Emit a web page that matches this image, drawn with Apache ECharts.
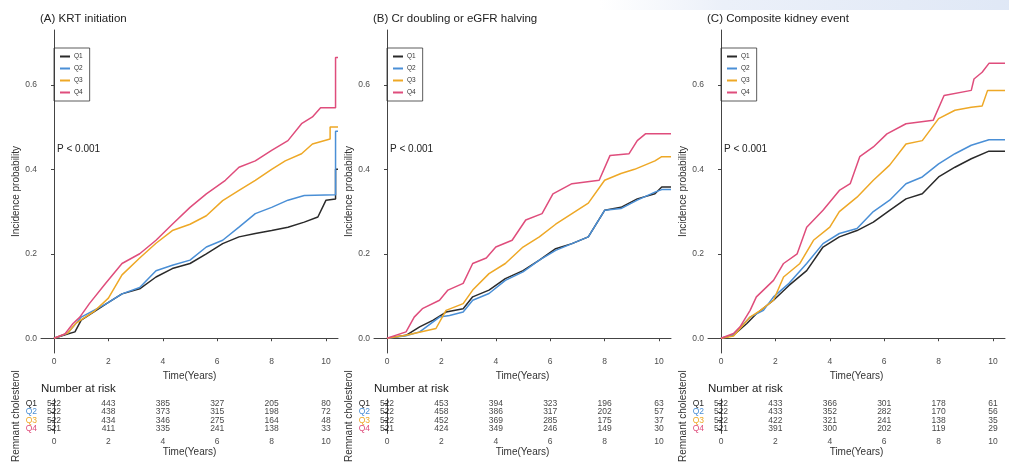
<!DOCTYPE html>
<html>
<head>
<meta charset="utf-8">
<title>Cumulative incidence by remnant cholesterol quartile</title>
<script src="https://cdn.jsdelivr.net/npm/echarts@6/dist/echarts.min.js"></script>
<style>
  html, body { margin: 0; padding: 0; background: #fff; }
  #main { width: 1009px; height: 473px; }
</style>
</head>
<body>
<div id="main"></div>
<script>
// quartile names and colours
const groups = ['Q1', 'Q2', 'Q3', 'Q4'];
const colors = ['#2a2a2a', '#4a8fd6', '#eea826', '#df4d7c'];
const panelTitles = ['(A) KRT initiation', '(B) Cr doubling or eGFR halving', '(C) Composite kidney event'];
const riskTimes = [0, 2, 4, 6, 8, 10];

// (A) KRT initiation  [time, incidence]
const krtQ1 = [[0,0],[0.5,0.01],[0.77,0.015],[1.0,0.043],[1.93,0.082],[2.5,0.105],[3.15,0.117],[3.75,0.145],[4.35,0.165],[5.0,0.177],[5.6,0.2],[6.2,0.224],[6.8,0.24],[7.4,0.248],[8.0,0.255],[8.6,0.263],[9.2,0.275],[9.7,0.287],[10.0,0.327],[10.35,0.33],[10.35,0.4],[10.44,0.4]];
const krtQ2 = [[0,0],[0.5,0.012],[1.0,0.05],[1.93,0.082],[2.5,0.105],[3.15,0.12],[3.75,0.16],[4.35,0.173],[5.0,0.185],[5.6,0.216],[6.2,0.232],[6.8,0.263],[7.4,0.295],[8.0,0.31],[8.6,0.327],[9.2,0.338],[10.35,0.34],[10.35,0.49],[10.44,0.49]];
const krtQ3 = [[0,0],[0.5,0.012],[0.8,0.035],[1.5,0.065],[2.0,0.095],[2.5,0.15],[3.15,0.19],[3.75,0.225],[4.35,0.255],[5.0,0.27],[5.6,0.29],[6.2,0.326],[6.8,0.35],[7.4,0.374],[8.0,0.4],[8.5,0.42],[9.1,0.437],[9.5,0.46],[10.15,0.472],[10.15,0.5],[10.44,0.5]];
const krtQ4 = [[0,0],[0.4,0.01],[0.7,0.035],[0.95,0.05],[1.3,0.082],[1.9,0.13],[2.5,0.177],[3.15,0.2],[3.75,0.232],[4.35,0.27],[5.0,0.31],[5.6,0.342],[6.3,0.374],[6.8,0.405],[7.4,0.42],[8.0,0.445],[8.6,0.468],[9.1,0.508],[9.5,0.524],[9.8,0.546],[10.35,0.546],[10.35,0.665],[10.44,0.665]];

// (B) Cr doubling or eGFR halving
const crQ1 = [[0,0],[0.7,0.007],[1.2,0.027],[1.7,0.043],[2.17,0.062],[2.8,0.07],[3.15,0.098],[3.75,0.114],[4.35,0.141],[5.0,0.16],[5.6,0.185],[6.2,0.212],[6.8,0.224],[7.4,0.24],[8.0,0.303],[8.6,0.31],[9.2,0.33],[9.85,0.342],[10.1,0.358],[10.44,0.358]];
const crQ2 = [[0,0],[0.7,0.006],[1.2,0.015],[1.93,0.05],[2.3,0.054],[2.8,0.062],[3.15,0.09],[3.75,0.106],[4.35,0.137],[5.0,0.157],[5.6,0.185],[6.2,0.208],[6.8,0.224],[7.4,0.24],[8.0,0.303],[8.6,0.307],[9.2,0.327],[9.85,0.346],[10.1,0.352],[10.44,0.352]];
const crQ3 = [[0,0],[0.7,0.007],[1.8,0.023],[2.17,0.066],[2.8,0.082],[3.15,0.114],[3.75,0.153],[4.35,0.177],[5.0,0.216],[5.6,0.24],[6.2,0.27],[6.8,0.295],[7.4,0.32],[8.0,0.374],[8.6,0.39],[9.1,0.4],[9.85,0.42],[10.1,0.43],[10.44,0.43]];
const crQ4 = [[0,0],[0.7,0.015],[1.0,0.05],[1.3,0.07],[1.93,0.09],[2.24,0.114],[2.8,0.13],[3.15,0.177],[3.65,0.19],[4.0,0.216],[4.6,0.232],[5.1,0.28],[5.7,0.295],[6.1,0.342],[6.8,0.366],[7.8,0.374],[8.2,0.433],[8.9,0.437],[9.2,0.468],[9.5,0.484],[10.44,0.484]];

// (C) Composite kidney event
const ckeQ1 = [[0,0],[0.46,0.007],[0.95,0.035],[1.3,0.058],[1.93,0.09],[2.5,0.125],[3.15,0.16],[3.75,0.216],[4.35,0.24],[5.0,0.255],[5.6,0.275],[6.2,0.303],[6.8,0.33],[7.4,0.342],[8.0,0.382],[8.6,0.405],[9.2,0.425],[9.85,0.443],[10.44,0.443]];
const ckeQ2 = [[0,0],[0.46,0.008],[1.07,0.05],[1.56,0.066],[1.93,0.098],[2.5,0.13],[3.15,0.177],[3.75,0.224],[4.35,0.248],[5.0,0.26],[5.6,0.3],[6.2,0.327],[6.8,0.366],[7.4,0.382],[8.0,0.413],[8.6,0.437],[9.2,0.457],[9.85,0.47],[10.44,0.47]];
const ckeQ3 = [[0,0],[0.46,0.005],[1.07,0.05],[1.45,0.066],[1.93,0.09],[2.3,0.145],[2.9,0.177],[3.4,0.232],[4.0,0.263],[4.35,0.3],[5.0,0.334],[5.6,0.374],[6.2,0.41],[6.8,0.46],[7.4,0.468],[8.0,0.52],[8.6,0.54],[9.2,0.547],[9.6,0.55],[9.8,0.587],[10.44,0.587]];
const ckeQ4 = [[0,0],[0.46,0.011],[0.7,0.027],[1.07,0.066],[1.3,0.098],[1.93,0.137],[2.3,0.177],[2.8,0.2],[3.15,0.263],[3.75,0.303],[4.35,0.35],[4.75,0.366],[5.1,0.43],[5.6,0.453],[6.1,0.484],[6.8,0.508],[7.8,0.516],[8.2,0.575],[9.2,0.587],[9.3,0.614],[9.6,0.63],[9.85,0.651],[10.44,0.651]];

// number at risk, rows Q1..Q4, columns riskTimes
const riskKRT = [[522,443,385,327,205,80],[522,438,373,315,198,72],[522,434,346,275,164,48],[521,411,335,241,138,33]];
const riskCr  = [[522,453,394,323,196,63],[522,458,386,317,202,57],[522,452,369,285,175,37],[521,424,349,246,149,30]];
const riskCke = [[522,433,366,301,178,61],[522,433,352,282,170,56],[522,422,321,241,138,35],[521,391,300,202,119,29]];

const curves = [[krtQ1, krtQ2, krtQ3, krtQ4], [crQ1, crQ2, crQ3, crQ4], [ckeQ1, ckeQ2, ckeQ3, ckeQ4]];
const risks = [riskKRT, riskCr, riskCke];

const panelLeft = [41, 374, 708];
const plotW = 297;
const font = 'Liberation Sans, Arial, sans-serif';
const axisCol = '#444';
const labelCol = '#4d4d4d';

const grid = [], xAxis = [], yAxis = [], series = [], legend = [], graphic = [];

// faint band from the screenshot at the very top
graphic.push({
  type: 'rect', shape: { x: 600, y: 0, width: 409, height: 10 }, silent: true,
  style: { fill: new echarts.graphic.LinearGradient(0, 0, 1, 0, [
    { offset: 0, color: 'rgba(225,232,245,0)' },
    { offset: 0.3, color: 'rgba(222,230,245,0.6)' },
    { offset: 1, color: 'rgba(210,222,242,0.7)' }
  ]) }
});

panelLeft.forEach((left, p) => {
  // main plot
  grid.push({ left: left, top: 30, width: plotW, height: 323 });
  // risk table
  grid.push({ left: left, top: 399, width: plotW, height: 34.4 });

  const gMain = p * 2, gRisk = p * 2 + 1;

  xAxis.push({
    type: 'value', gridIndex: gMain, min: -0.478, max: 10.44,
    name: 'Time(Years)', nameLocation: 'middle', nameGap: 11,
    nameTextStyle: { fontSize: 10, color: '#333', fontFamily: font },
    axisLine: { lineStyle: { color: axisCol, width: 1 } },
    axisTick: { length: 3, lineStyle: { color: axisCol }, customValues: riskTimes },
    axisLabel: { fontSize: 8.5, color: labelCol, margin: 4, fontFamily: font, customValues: riskTimes },
    splitLine: { show: false }
  });
  yAxis.push({
    type: 'value', gridIndex: gMain, min: -0.035, max: 0.73,
    name: 'Incidence probability', nameLocation: 'middle', nameGap: 15,
    nameTextStyle: { fontSize: 10, color: '#333', fontFamily: font },
    axisLine: { show: true, lineStyle: { color: axisCol, width: 1 } },
    axisTick: { show: true, length: 3, lineStyle: { color: axisCol }, customValues: [0, 0.2, 0.4, 0.6] },
    axisLabel: { fontSize: 8.5, color: labelCol, margin: 4, fontFamily: font,
      customValues: [0, 0.2, 0.4, 0.6], formatter: v => v.toFixed(1) },
    splitLine: { show: false }
  });

  xAxis.push({
    type: 'value', gridIndex: gRisk, min: -0.478, max: 10.44,
    name: 'Time(Years)', nameLocation: 'middle', nameGap: 12,
    nameTextStyle: { fontSize: 10, color: '#333', fontFamily: font },
    axisLine: { lineStyle: { color: axisCol, width: 1 } },
    axisTick: { length: 3, lineStyle: { color: axisCol }, customValues: riskTimes },
    axisLabel: { fontSize: 8.5, color: labelCol, margin: 4, fontFamily: font, customValues: riskTimes },
    splitLine: { show: false }
  });
  yAxis.push({
    type: 'category', gridIndex: gRisk, data: groups, inverse: true,
    name: 'Remnant cholesterol', nameLocation: 'middle', nameGap: 20,
    nameTextStyle: { fontSize: 10, color: '#333', fontFamily: font },
    axisLine: { show: true, lineStyle: { color: axisCol, width: 1 } },
    axisTick: { show: true, length: 3, interval: 0, alignWithLabel: true, lineStyle: { color: axisCol } },
    axisLabel: { fontSize: 8.5, margin: 4, interval: 0, fontFamily: font, color: (v, i) => colors[i] },
    splitLine: { show: false }
  });

  curves[p].forEach((pts, k) => {
    series.push({
      name: groups[k], type: 'line', xAxisIndex: gMain, yAxisIndex: gMain,
      data: pts, symbol: 'none', smooth: false, animation: false,
      lineStyle: { color: colors[k], width: 1.5 }, itemStyle: { color: colors[k] }
    });
  });

  const riskData = [];
  risks[p].forEach((row, k) => {
    row.forEach((n, j) => riskData.push([riskTimes[j], groups[k], n]));
  });
  series.push({
    type: 'scatter', xAxisIndex: gRisk, yAxisIndex: gRisk, data: riskData,
    symbolSize: 0, animation: false, silent: true,
    label: { show: true, position: 'inside', formatter: d => d.value[2],
      fontSize: 8.5, color: '#111', fontFamily: font }
  });

  legend.push({
    data: groups, left: left + 13, top: 48, orient: 'vertical',
    itemWidth: 10, itemHeight: 8, itemGap: 5, padding: [5, 7, 5, 5],
    borderColor: '#333', borderWidth: 0.8, selectedMode: false,
    itemStyle: { opacity: 0 },
    textStyle: { fontSize: 6.5, color: '#333', fontFamily: font, padding: [0, 0, 0, -1] }
  });

  graphic.push({ type: 'text', left: left - 1, top: 13,
    style: { text: panelTitles[p], fontSize: 11.5, fill: '#222', fontFamily: font } });
  graphic.push({ type: 'text', left: left + 16, top: 144,
    style: { text: 'P < 0.001', fontSize: 10, fill: '#222', fontFamily: font } });
  graphic.push({ type: 'text', left: left, top: 383,
    style: { text: 'Number at risk', fontSize: 11.5, fill: '#222', fontFamily: font } });
});

const myChart = echarts.init(document.getElementById('main'));
myChart.setOption({
  backgroundColor: '#fff',
  animation: false,
  grid: grid, xAxis: xAxis, yAxis: yAxis, series: series,
  legend: legend, graphic: graphic
});
window.onresize = function () {
  myChart.resize();
};
</script>
</body>
</html>
